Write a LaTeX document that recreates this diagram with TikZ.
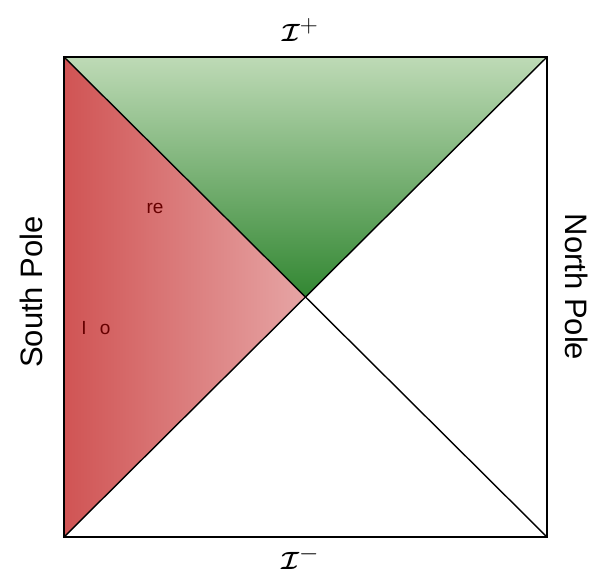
\documentclass[tikz,border=0pt]{standalone}
\usepackage{fontspec}
\newfontfamily\labfont{Liberation Sans}
\usepackage{amsmath}
\begin{document}
\begin{tikzpicture}[x=1pt,y=-1pt,
  edge/.style={draw=black,line width=1.8pt},
  lab/.style={font=\labfont\fontsize{31}{34}\selectfont,inner sep=0pt},
  small/.style={font=\labfont\fontsize{19}{22}\selectfont,text=red!40!black,inner sep=0pt}]
\useasboundingbox (0,0) rectangle (597,582);
\fill[white] (0,0) rectangle (597,582);
\coordinate (tl) at (64,57);
\coordinate (tr) at (547,57);
\coordinate (bl) at (64,537);
\coordinate (br) at (547,537);
\coordinate (c) at (305.5,297);
\definecolor{gtop}{RGB}{190,218,182}
\definecolor{gbot}{RGB}{50,135,50}
\definecolor{rleft}{RGB}{208,84,84}
\definecolor{rright}{RGB}{230,165,165}
\begin{scope}
  \clip (tl) -- (tr) -- (c) -- cycle;
  \shade[top color=gtop,bottom color=gbot] (64,57) rectangle (547,297);
\end{scope}
\begin{scope}
  \clip (tl) -- (c) -- (bl) -- cycle;
  \shade[left color=rleft,right color=rright] (64,57) rectangle (305.5,537);
\end{scope}
\draw[edge] (tl) -- (tr) -- (br) -- (bl) -- cycle;
\draw[edge,line width=1.4pt] (tl) -- (br);
\draw[edge,line width=1.4pt] (tr) -- (bl);
\node[inner sep=0pt,font=\fontsize{46}{50}\selectfont] (scrip) at (300,30) {$\boldsymbol{\mathcal{I}}^{+}$};
\node[inner sep=0pt,font=\fontsize{46}{50}\selectfont] (scrim) at (300,558) {$\boldsymbol{\mathcal{I}}^{-}$};
\node[lab,rotate=90] (south) at (31,292) {South Pole};
\node[lab,rotate=-90] (north) at (577,287) {North Pole};
\node[small] (re) at (155,208) {re};
\node[small] (io) at (96,328) {I\hspace{0.7em}o};
\end{tikzpicture}
\end{document}
